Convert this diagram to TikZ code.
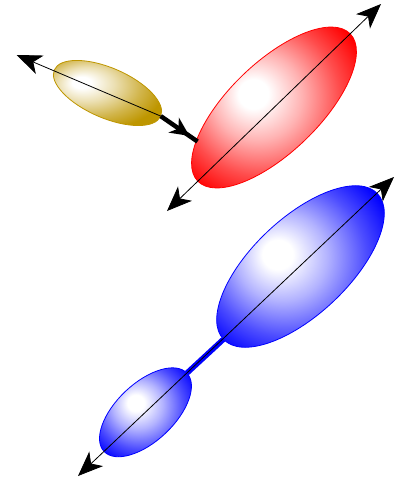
\documentclass[tikz,border=0pt]{standalone}
\usetikzlibrary{arrows.meta,calc}
\definecolor{goldc}{RGB}{190,150,0}
\newcommand\mkglow[4]{\pgfdeclareradialshading{#1}{\pgfpoint{#3}{#4}}{color(0bp)=(white); color(4bp)=(white); color(12bp)=(#2!30!white); color(21bp)=(#2!70!white); color(29bp)=(#2); color(50bp)=(#2)}}
\mkglow{goldglow}{goldc}{-12bp}{8bp}
\mkglow{redglow}{red}{-6bp}{4bp}
\mkglow{bigblueglow}{blue}{-6.5bp}{3.5bp}
\mkglow{smallblueglow}{blue}{-5bp}{5bp}
\begin{document}
\begin{tikzpicture}[x=1pt,y=-1pt,
  bigtip/.tip={Stealth[length=25pt,width=20pt,inset=7pt]},
  midtip/.tip={Stealth[length=19pt,width=18pt,inset=6pt]},
  axisline/.style={line width=0.8pt},
  blob/.style={draw=#1, line width=0.8pt}]
\useasboundingbox (0,0) rectangle (395,482);
% named points
\coordinate (Y) at (107.5,93);
\coordinate (Yend) at (160.7,116.1);
\coordinate (Ytip) at (16.7,55);
\coordinate (R) at (274,107.5);
\coordinate (Rin) at (197.5,141.5);
\coordinate (Tm) at ($(Yend)!0.78!(Rin)$);
\coordinate (Tb) at ($(Yend)!0.45!(Rin)$);
\coordinate (Rtip1) at (167,211);
\coordinate (Rtip2) at (381,4);
\coordinate (S) at (145.5,412.3);
\coordinate (Send) at (186.9,373.1);
\coordinate (B) at (300.5,266.5);
\coordinate (Bend) at (223.4,339.3);
\coordinate (Btip1) at (78,476);
\coordinate (Btip2) at (394,177);
% blue connector
\draw[blue, line width=5.5pt] (Send) -- (Bend);
% ellipses
\shade[shading=goldglow, blob=goldc, rotate around={-23.5:(Y)}] (Y) ellipse (58 and 25);
\shade[shading=redglow, blob=red, rotate around={44:(R)}] (R) ellipse (106 and 45);
\shade[shading=bigblueglow, blob=blue, rotate around={43.4:(B)}] (B) ellipse (106 and 48);
\shade[shading=smallblueglow, blob=blue, rotate around={43.4:(S)}] (S) ellipse (57 and 29);
% thick black arrow
\draw[line width=4.5pt, -{midtip}] (Yend) -- (Tm);
\draw[line width=4.5pt] (Tb) -- (Rin);
% axis lines
\draw[axisline, -{bigtip}] (Yend) -- (Ytip);
\draw[axisline, {bigtip}-{bigtip}] (Rtip1) -- (Rtip2);
\draw[axisline, {bigtip}-{bigtip}] (Btip1) -- (Btip2);
\end{tikzpicture}
\end{document}
